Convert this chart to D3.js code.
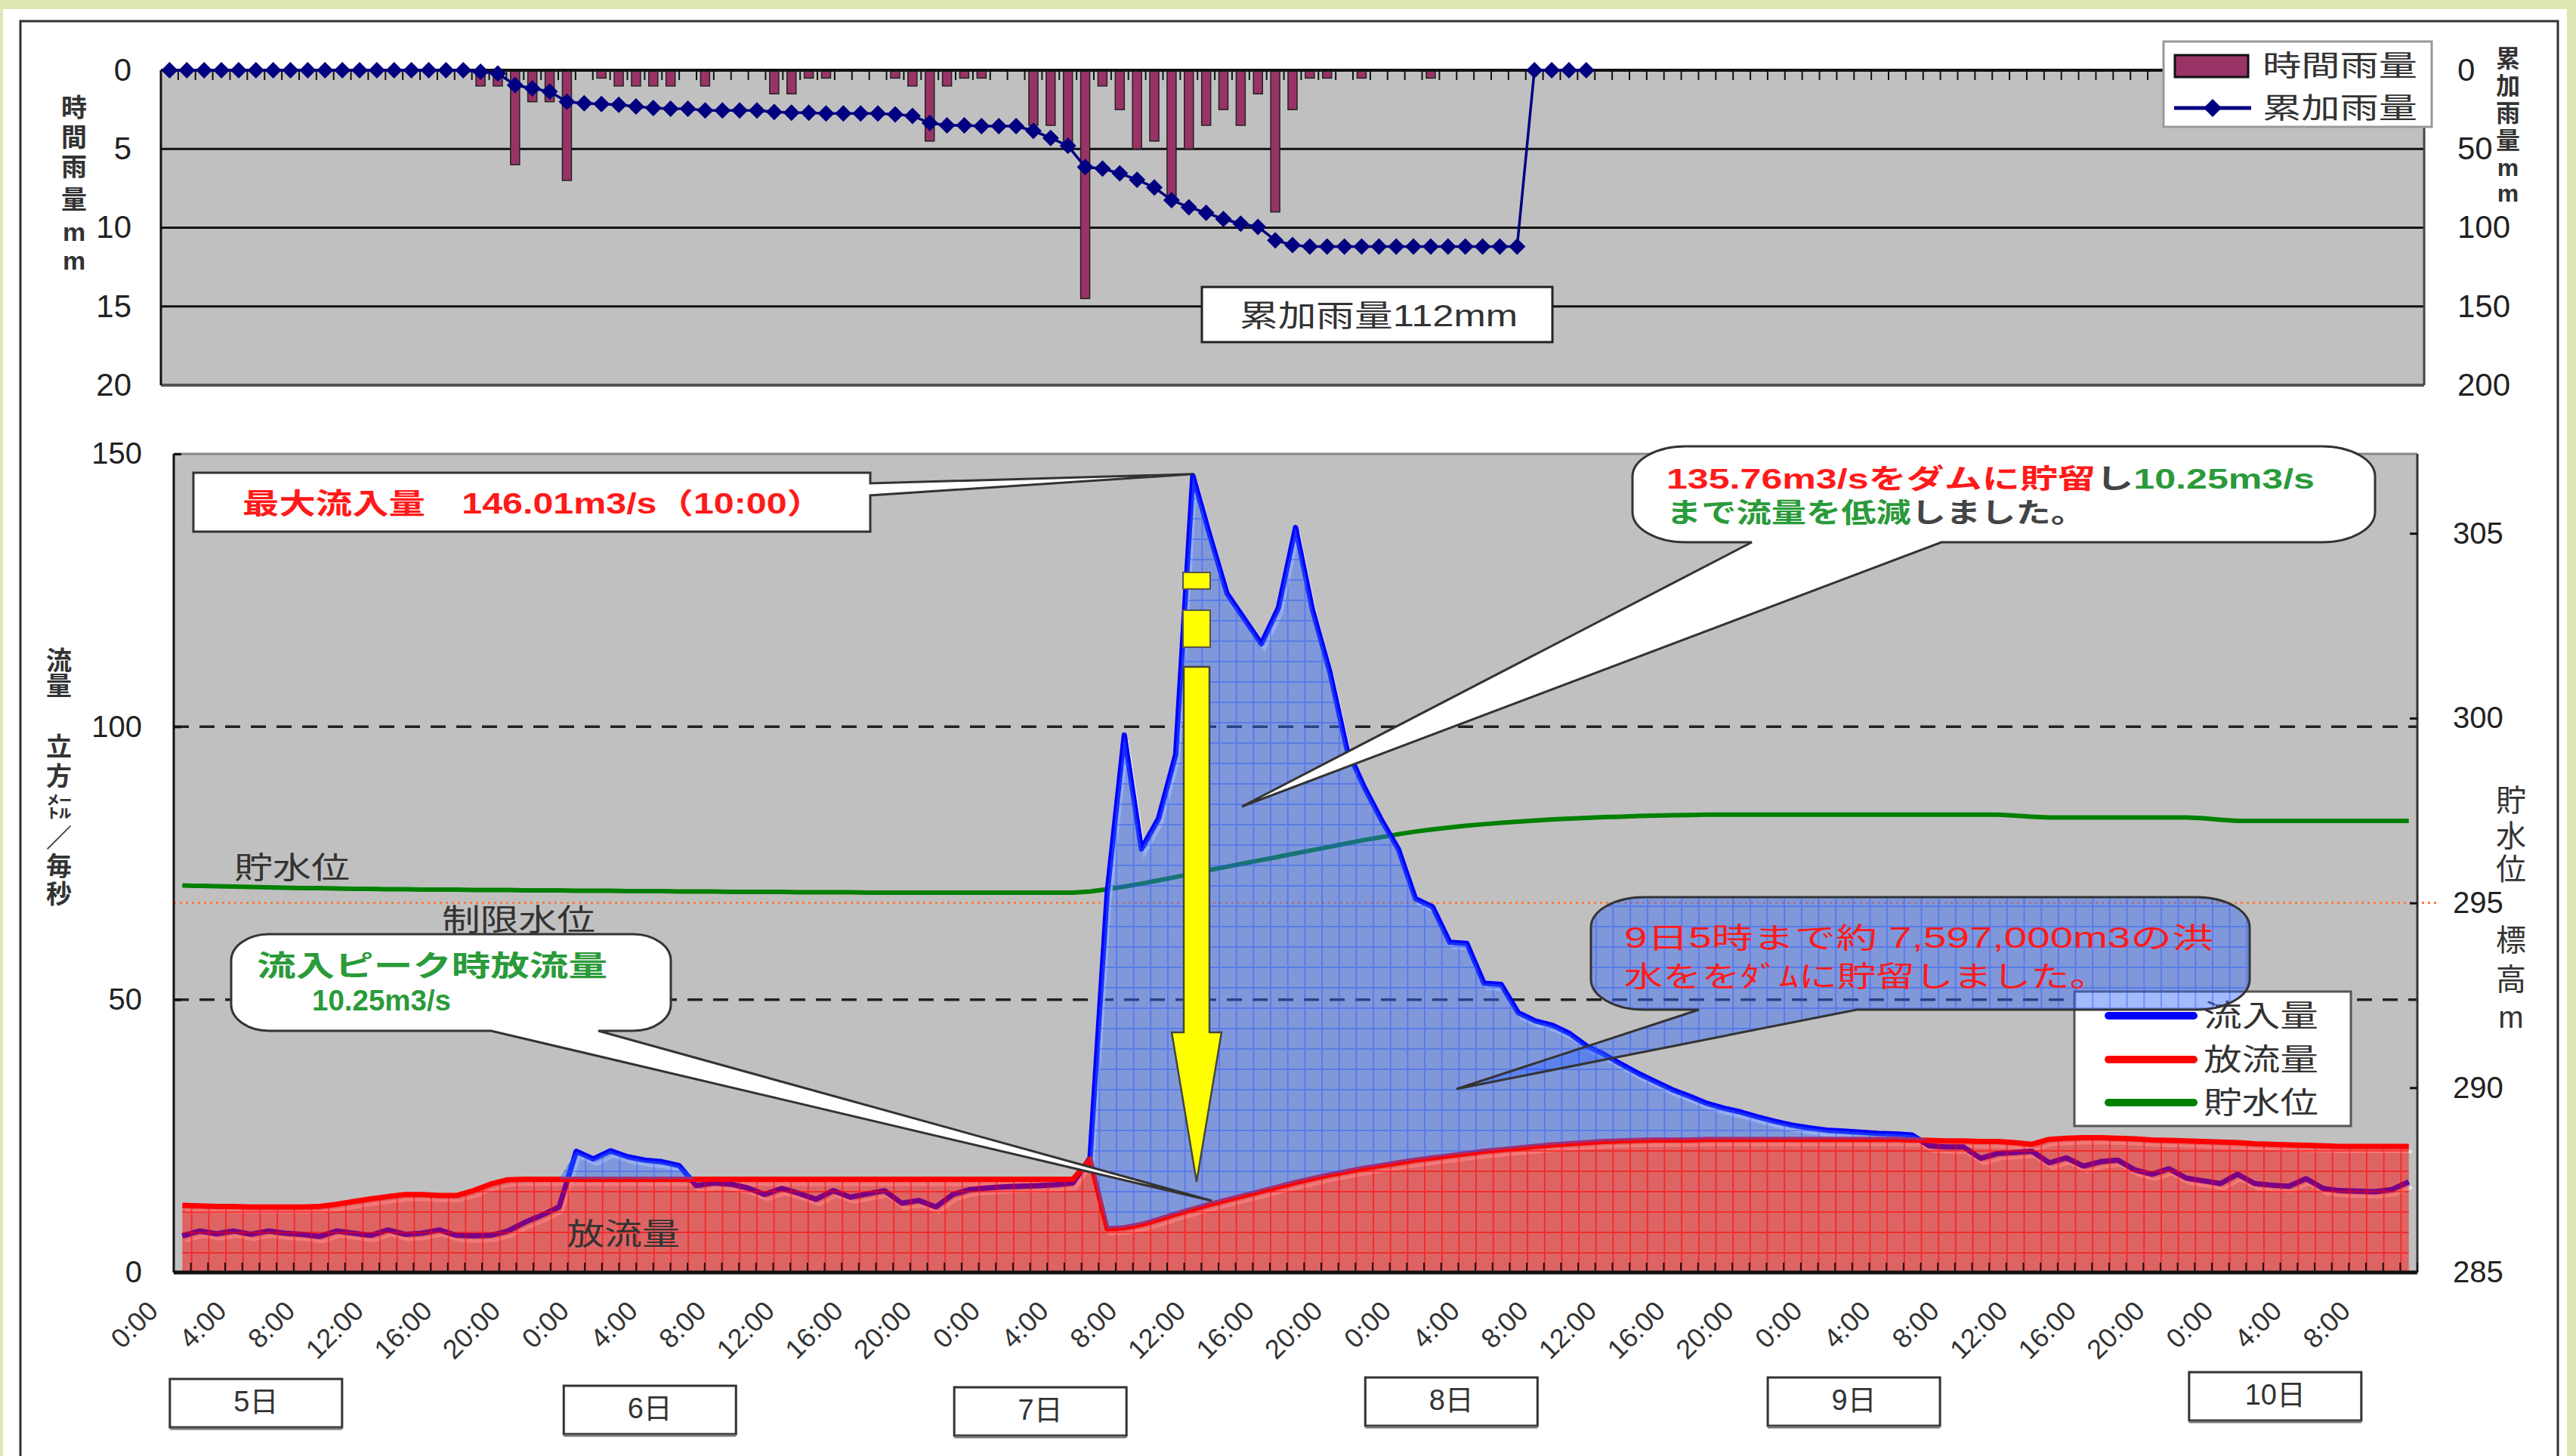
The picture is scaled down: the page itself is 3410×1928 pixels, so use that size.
<!DOCTYPE html>
<meta charset="utf-8">
<title>ダム流量 5日〜10日</title>
<body>
<script src="https://cdn.jsdelivr.net/npm/d3@7"></script>
<style>
html, body { margin: 0; background: #dfe6b3; }
svg { display: block; }
text { font-family: "Liberation Sans", "Noto Sans CJK JP", sans-serif; }
</style>
<script>
// hourly rain (mm), one value per hour from 5th 0:00
var rainHourly = [0,0,0,0,0,0,0,0,0,0,
  0,0,0,0,0,0,0,0,1,1,
  6,2,2,7,0,0.5,1,1,1,1,
  0,1,0,0,0,1.5,1.5,0.5,0.5,0,
  0,0,0.5,1,4.5,1,0.5,0.5,0,0,
  3.5,3.5,5,14.5,1,2.5,5,4.5,8,5,
  3.5,2.5,3.5,1.5,9,2.5,0.5,0.5,0,0.5,
  0,0,0,0.5,0,0,0,0,0,0,
  0,0,0];
// accumulated rain (mm)
var rainTotal = [0,0,0,0,0,0,0,0,0,0,
  0,0,0,0,0,0,0,0,1,2,
  9.5,11.5,13.5,20,21,21.5,22,23,24,24.5,
  24.5,25.5,25.5,25.5,25.5,26.5,27,27,27.5,27.5,
  27.5,27.5,28,29,33.5,35,35,35.5,35.5,35.5,
  38.5,43,48,61.5,62.5,65.5,69.5,74.5,82.5,87,
  90.5,94.5,97.5,99.5,108,111,112,112,112,112,
  112,112,112,112,112,112,112,112,112,0,
  0,0,0];
// inflow m3/s
var inflow = [6.7,7.6,7.1,7.6,7.0,7.6,7.2,7.0,6.6,7.6,
  7.2,6.8,7.8,7.0,7.2,7.8,6.8,6.7,6.8,7.6,
  9.2,10.5,12.0,22.2,20.8,22.3,21.2,20.6,20.3,19.6,
  15.9,16.4,16.2,15.5,14.3,15.4,14.5,13.4,15.0,13.8,
  14.4,15.0,12.7,13.2,12.0,14.3,15.2,15.5,15.7,15.8,
  15.9,16.1,16.4,21.0,69.5,98.5,77.6,83.2,94.9,146.01,
  135.0,124.4,119.8,115.2,121.8,136.5,121.3,110.1,95.9,89.0,
  83.0,77.6,68.5,67.0,60.5,60.3,53.0,52.8,47.6,46.1,
  45.3,43.8,41.5,40.0,38.2,36.5,35.0,33.5,32.3,31.0,
  30.1,29.4,28.5,27.7,27.0,26.5,26.1,25.9,25.7,25.5,
  25.4,25.2,23.2,23.0,23.0,20.9,21.8,22.0,22.2,20.1,
  21.0,19.5,20.3,20.6,18.8,18.0,19.0,17.3,16.8,16.3,
  18.0,16.3,16.0,15.8,17.2,15.4,15.0,14.9,14.8,15.2,
  16.6];
// outflow m3/s
var outflow = [12.3,12.2,12.1,12.1,12.0,12.0,12.0,12.0,12.1,12.5,
  13.0,13.5,13.9,14.3,14.3,14.1,14.1,15.0,16.2,17.0,
  17.1,17.1,17.1,17.1,17.1,17.1,17.1,17.1,17.1,17.1,
  17.1,17.1,17.1,17.1,17.1,17.1,17.1,17.1,17.1,17.1,
  17.1,17.1,17.1,17.1,17.1,17.1,17.1,17.1,17.1,17.1,
  17.1,17.1,17.1,20.8,8.0,8.2,8.8,9.7,10.7,11.6,
  12.5,13.3,14.1,14.9,15.7,16.5,17.2,17.9,18.5,19.1,
  19.6,20.1,20.6,21.0,21.4,21.8,22.2,22.5,22.8,23.1,
  23.4,23.6,23.8,24.0,24.1,24.2,24.3,24.3,24.3,24.4,
  24.4,24.4,24.4,24.4,24.4,24.4,24.4,24.4,24.4,24.4,
  24.4,24.3,24.2,24.1,24.1,24.0,24.0,23.8,23.5,24.4,
  24.6,24.7,24.7,24.6,24.5,24.3,24.2,24.1,24.0,23.9,
  23.8,23.6,23.5,23.4,23.3,23.2,23.1,23.1,23.1,23.1,
  23.1];
// reservoir level (m)
var level = [295.47,295.46,295.45,295.44,295.43,295.42,295.41,295.40,295.40,295.39,
  295.38,295.38,295.37,295.37,295.36,295.36,295.36,295.35,295.35,295.35,
  295.34,295.34,295.34,295.33,295.33,295.33,295.32,295.32,295.32,295.31,
  295.31,295.31,295.30,295.30,295.30,295.30,295.29,295.29,295.29,295.29,
  295.28,295.28,295.28,295.28,295.28,295.28,295.28,295.28,295.28,295.28,
  295.28,295.28,295.28,295.31,295.37,295.44,295.52,295.61,295.70,295.80,
  295.89,295.98,296.07,296.16,296.25,296.34,296.43,296.52,296.61,296.70,
  296.78,296.86,296.93,296.99,297.04,297.09,297.13,297.17,297.20,297.23,
  297.26,297.28,297.30,297.32,297.33,297.35,297.36,297.37,297.38,297.39,
  297.39,297.39,297.39,297.39,297.39,297.39,297.39,297.39,297.39,297.39,
  297.39,297.39,297.39,297.39,297.39,297.39,297.39,297.36,297.33,297.31,
  297.31,297.31,297.31,297.31,297.31,297.31,297.31,297.31,297.29,297.25,
  297.22,297.22,297.22,297.22,297.22,297.22,297.22,297.22,297.22,297.22,
  297.22];
var limitLevel = 295;

var timeLabels = ["0:00","4:00","8:00","12:00","16:00","20:00",
  "0:00","4:00","8:00","12:00","16:00","20:00",
  "0:00","4:00","8:00","12:00","16:00","20:00",
  "0:00","4:00","8:00","12:00","16:00","20:00",
  "0:00","4:00","8:00","12:00","16:00","20:00",
  "0:00","4:00","8:00"];
var dayLabels = ["5日","6日","7日","8日","9日","10日"];
var rainTicks = [0,5,10,15,20],
    totalTicks = [0,50,100,150,200],
    flowTicks = [0,50,100,150],
    levelTicks = [285,290,295,300,305];

// layout
var W = 3410, H = 1928;
var hours = d3.range(inflow.length);
var dayBoxHour = [4.3, 27.3, 50.1, 74.1, 97.6, 122.2],
    dayBoxTop = [1826, 1835, 1837, 1824, 1824, 1817];

var svg = d3.select("body").append("svg").attr("width", W).attr("height", H);
var defs = svg.append("defs");

function txt(g, x, y, s, o) {
  o = o || {};
  var t = g.append("text").attr("x", x).attr("y", y).attr("dy", "0.35em")
    .attr("font-size", o.size || 40).attr("fill", o.fill || "#222")
    .attr("text-anchor", o.anchor || "start")
    .attr("font-weight", o.weight || "normal");
  if (o.len) t.attr("textLength", o.len).attr("lengthAdjust", "spacingAndGlyphs");
  if (typeof s === "string") t.text(s);
  else s.forEach(function(p) { t.append("tspan").attr("fill", p[1]).text(p[0]); });
  return t;
}
function vtext(g, x, ys, chars, o) {
  chars.forEach(function(c, k) { txt(g, x, ys[k], c, Object.assign({anchor: "middle"}, o)); });
}
function bubble(x0, y0, x1, y1, rx, ry, wx0, wx1, tx, ty) {
  return "M" + (x0 + rx) + "," + y0 + "H" + (x1 - rx) +
    "A" + rx + "," + ry + " 0 0 1 " + x1 + "," + (y0 + ry) + "V" + (y1 - ry) +
    "A" + rx + "," + ry + " 0 0 1 " + (x1 - rx) + "," + y1 + "H" + wx1 +
    "L" + tx + "," + ty + "L" + wx0 + "," + y1 + "H" + (x0 + rx) +
    "A" + rx + "," + ry + " 0 0 1 " + x0 + "," + (y1 - ry) + "V" + (y0 + ry) +
    "A" + rx + "," + ry + " 0 0 1 " + (x0 + rx) + "," + y0 + "Z";
}

// page panel + frame
svg.append("rect").attr("x", 4).attr("y", 12).attr("width", 3394).attr("height", H).attr("fill", "#fff");
svg.append("rect").attr("x", 27).attr("y", 28).attr("width", 3359).attr("height", 1940)
  .attr("fill", "none").attr("stroke", "#333").attr("stroke-width", 3);

// ===== top chart: rain =====
var T = {l: 213, r: 3209, t: 93, b: 510};
var xT = d3.scaleBand().domain(hours).range([T.l, T.r]);
var cT = function(i) { return xT(i) + xT.bandwidth() / 2; };
var yR = d3.scaleLinear().domain([0, 20]).range([T.t, T.b]);
var yC = d3.scaleLinear().domain([0, 200]).range([T.t, T.b]);

var gt = svg.append("g");
gt.append("rect").attr("x", T.l).attr("y", T.t).attr("width", T.r - T.l).attr("height", T.b - T.t).attr("fill", "#c0c0c0");
gt.selectAll(".grid").data([5, 10, 15]).enter().append("line")
  .attr("x1", T.l).attr("x2", T.r).attr("y1", yR).attr("y2", yR)
  .attr("stroke", "#111").attr("stroke-width", 3);
gt.append("line").attr("x1", T.l).attr("x2", T.r).attr("y1", T.b).attr("y2", T.b).attr("stroke", "#555").attr("stroke-width", 4);
gt.append("line").attr("x1", T.r).attr("x2", T.r).attr("y1", T.t).attr("y2", T.b).attr("stroke", "#444").attr("stroke-width", 3);

gt.selectAll(".bar").data(rainHourly.map(function(v, i) { return {i: i, v: v}; }).filter(function(d) { return d.v > 0; }))
  .enter().append("rect")
  .attr("x", function(d) { return cT(d.i) - 6; }).attr("y", T.t)
  .attr("width", 12).attr("height", function(d) { return yR(d.v) - T.t; })
  .attr("fill", "#993366").attr("stroke", "#222").attr("stroke-width", 1.5);

gt.append("line").attr("x1", T.l).attr("x2", T.r).attr("y1", T.t).attr("y2", T.t).attr("stroke", "#111").attr("stroke-width", 4);
gt.selectAll(".tk").data(d3.range(hours.length + 1)).enter().append("line")
  .attr("x1", function(i) { return T.l + i * xT.bandwidth(); }).attr("x2", function(i) { return T.l + i * xT.bandwidth(); })
  .attr("y1", T.t).attr("y2", T.t + 13).attr("stroke", "#111").attr("stroke-width", 2);
gt.append("line").attr("x1", T.l).attr("x2", T.l).attr("y1", T.t).attr("y2", T.b).attr("stroke", "#111").attr("stroke-width", 3);

gt.append("path").datum(rainTotal)
  .attr("d", d3.line().x(function(d, i) { return cT(i); }).y(function(d) { return yC(d); }))
  .attr("fill", "none").attr("stroke", "#000080").attr("stroke-width", 3.5);
gt.selectAll(".dm").data(rainTotal).enter().append("path")
  .attr("d", "M0,-11L11,0L0,11L-11,0Z")
  .attr("transform", function(d, i) { return "translate(" + cT(i) + "," + yC(d) + ")"; })
  .attr("fill", "#000080");

function styleAxis(g) {
  g.attr("font-family", null).attr("font-size", 40);
  g.select(".domain").remove();
  g.selectAll("text").attr("fill", "#222");
}
gt.append("g").attr("transform", "translate(" + T.l + ",0)")
  .call(d3.axisLeft(yR).tickValues(rainTicks).tickSize(0).tickPadding(39)).call(styleAxis)
  .selectAll("text").attr("font-size", 42);
gt.append("g").attr("transform", "translate(" + T.r + ",0)")
  .call(d3.axisRight(yC).tickValues(totalTicks).tickSize(0).tickPadding(44)).call(styleAxis)
  .selectAll("text").attr("font-size", 42);

vtext(gt, 98, [143, 182, 221, 264, 307, 345], ["時","間","雨","量","m","m"], {size: 34, weight: "bold", fill: "#333"});
vtext(gt, 3320, [78, 114, 150, 186, 222, 256], ["累","加","雨","量","m","m"], {size: 32, weight: "bold", fill: "#333"});

// top legend
gt.append("rect").attr("x", 2864).attr("y", 55).attr("width", 355).attr("height", 113)
  .attr("fill", "#fff").attr("stroke", "#999").attr("stroke-width", 3);
gt.append("rect").attr("x", 2879).attr("y", 73).attr("width", 97).attr("height", 29)
  .attr("fill", "#993366").attr("stroke", "#111").attr("stroke-width", 3);
txt(gt, 2995, 87, "時間雨量", {size: 38, len: 205, fill: "#333"});
gt.append("line").attr("x1", 2878).attr("x2", 2980).attr("y1", 143).attr("y2", 143).attr("stroke", "#000080").attr("stroke-width", 5);
gt.append("path").attr("d", "M0,-12L12,0L0,12L-12,0Z").attr("transform", "translate(2929,143)").attr("fill", "#000080");
txt(gt, 2995, 143, "累加雨量", {size: 38, len: 205, fill: "#333"});

gt.append("rect").attr("x", 1591).attr("y", 380).attr("width", 464).attr("height", 73)
  .attr("fill", "#fff").attr("stroke", "#222").attr("stroke-width", 3);
txt(gt, 1641, 418, "累加雨量112mm", {size: 40, len: 368, fill: "#333"});

// ===== bottom chart: flow =====
var B = {l: 230, r: 3200, t: 601, b: 1685};
var xB = d3.scaleBand().domain(hours).range([B.l, B.r]);
var bw = xB.bandwidth();
var cB = function(i) { return xB(i) + bw / 2; };
var yQ = d3.scaleLinear().domain([0, 150]).range([B.b, B.t]);
var yL = d3.scaleLinear().domain([285, 307.15]).range([B.b, B.t]);

function pattern(id, fill, line) {
  var p = defs.append("pattern").attr("id", id).attr("patternUnits", "userSpaceOnUse")
    .attr("x", B.l).attr("y", B.b).attr("width", bw).attr("height", 27);
  p.append("rect").attr("width", bw).attr("height", 27).attr("fill", fill);
  p.append("path").attr("d", "M1,0V27M0,1H" + bw).attr("stroke", line).attr("stroke-width", 2);
}
pattern("pBlue", "rgba(50,105,250,0.45)", "rgba(30,80,255,0.4)");
pattern("pRed", "rgba(255,0,0,0.48)", "rgba(255,0,0,0.55)");

var gb = svg.append("g");
gb.append("rect").attr("x", B.l).attr("y", B.t).attr("width", B.r - B.l).attr("height", B.b - B.t).attr("fill", "#c0c0c0");
gb.selectAll(".dash").data([50, 100]).enter().append("line")
  .attr("x1", B.l).attr("x2", B.r).attr("y1", yQ).attr("y2", yQ)
  .attr("stroke", "#222").attr("stroke-width", 3.5).attr("stroke-dasharray", "20,14");
gb.append("line").attr("x1", B.l).attr("x2", 3230).attr("y1", yL(limitLevel)).attr("y2", yL(limitLevel))
  .attr("stroke", "#ff7a3a").attr("stroke-width", 3).attr("stroke-dasharray", "3,5");

gb.append("path").datum(level)
  .attr("d", d3.line().x(function(d, i) { return cB(i); }).y(function(d) { return yL(d); }))
  .attr("fill", "none").attr("stroke", "#008000").attr("stroke-width", 6);

var lineQ = d3.line().x(function(d, i) { return cB(i); }).y(function(d) { return yQ(d); });
[inflow, outflow].forEach(function(s) {
  gb.append("path").datum(s).attr("d", lineQ).attr("transform", "translate(4,7)")
    .attr("fill", "none").attr("stroke", "#eeeeee").attr("stroke-width", 4).attr("opacity", 0.85);
});
gb.append("path").datum(inflow).attr("d", lineQ).attr("fill", "none").attr("stroke", "#0000ff").attr("stroke-width", 7).attr("stroke-linejoin", "round");
gb.append("path").datum(outflow).attr("d", lineQ).attr("fill", "none").attr("stroke", "#ff0000").attr("stroke-width", 7).attr("stroke-linejoin", "round");

gb.append("path").datum(hours)
  .attr("d", d3.area().x(cB)
    .y0(function(i) { return yQ(outflow[i]); })
    .y1(function(i) { return yQ(Math.max(inflow[i], outflow[i])); }))
  .attr("fill", "url(#pBlue)");
gb.append("path").datum(hours)
  .attr("d", d3.area().x(cB).y0(B.b).y1(function(i) { return yQ(outflow[i]); }))
  .attr("fill", "url(#pRed)");

// axes frame
gb.append("line").attr("x1", B.l).attr("x2", B.r).attr("y1", B.t).attr("y2", B.t).attr("stroke", "#888").attr("stroke-width", 3);
gb.append("line").attr("x1", B.r).attr("x2", B.r).attr("y1", B.t).attr("y2", B.b).attr("stroke", "#333").attr("stroke-width", 3);
gb.selectAll(".tk").data(d3.range(hours.length + 1)).enter().append("line")
  .attr("x1", function(i) { return B.l + i * bw; }).attr("x2", function(i) { return B.l + i * bw; })
  .attr("y1", B.b - 13).attr("y2", B.b).attr("stroke", "#111").attr("stroke-width", 2);
gb.append("line").attr("x1", B.l).attr("x2", B.r).attr("y1", B.b).attr("y2", B.b).attr("stroke", "#111").attr("stroke-width", 5);
gb.append("line").attr("x1", B.l).attr("x2", B.l).attr("y1", B.t).attr("y2", B.b).attr("stroke", "#111").attr("stroke-width", 3);

gb.append("g").attr("transform", "translate(" + B.l + ",0)")
  .call(d3.axisLeft(yQ).tickValues(flowTicks).tickSize(-10).tickPadding(42)).call(styleAxis)
  .selectAll("line").attr("stroke", "#111").attr("stroke-width", 3);
gb.append("g").attr("transform", "translate(" + B.r + ",0)")
  .call(d3.axisRight(yL).tickValues(levelTicks).tickSize(-10).tickPadding(47)).call(styleAxis)
  .selectAll("line").attr("stroke", "#111").attr("stroke-width", 3);

var xa = gb.append("g").attr("transform", "translate(0," + B.b + ")")
  .call(d3.axisBottom(xB).tickValues(hours.filter(function(i) { return i % 4 === 0; }))
    .tickFormat(function(i) { return timeLabels[i / 4]; }).tickSize(0))
  .call(styleAxis);
xa.selectAll("text").attr("font-size", 36).attr("fill", "#333")
  .attr("x", 0).attr("y", 0).attr("dy", 0).attr("text-anchor", "end")
  .attr("transform", "translate(-30,53) rotate(-45)");

vtext(gb, 78, [875, 908, 989, 1028, 1069, 1110, 1147, 1184], ["流","量","立","方","㍍","／","毎","秒"], {size: 34, weight: "bold", fill: "#333"});
vtext(gb, 3324, [1060, 1107, 1151, 1245, 1297, 1347], ["貯","水","位","標","高","m"], {size: 40, fill: "#333"});

txt(gb, 310, 1149, "貯水位", {size: 40, len: 153, fill: "#333"});
txt(gb, 585, 1218, "制限水位", {size: 40, len: 203, fill: "#333"});
txt(gb, 750, 1634, "放流量", {size: 40, len: 150, fill: "#333"});

// bottom legend
gb.append("rect").attr("x", 2746).attr("y", 1313).attr("width", 366).attr("height", 178)
  .attr("fill", "#fff").attr("stroke", "#555").attr("stroke-width", 3);
[["流入量", "#0000ff", 1345], ["放流量", "#ff0000", 1403], ["貯水位", "#008000", 1460]].forEach(function(d) {
  gb.append("line").attr("x1", 2791).attr("x2", 2904).attr("y1", d[2]).attr("y2", d[2])
    .attr("stroke", d[1]).attr("stroke-width", 10).attr("stroke-linecap", "round");
  txt(gb, 2917, d[2], d[0], {size: 40, len: 152, fill: "#333"});
});

// yellow arrow
gb.append("rect").attr("x", 1566).attr("y", 758).attr("width", 36).attr("height", 22).attr("fill", "#ffff00").attr("stroke", "#555").attr("stroke-width", 2);
gb.append("rect").attr("x", 1566).attr("y", 808).attr("width", 36).attr("height", 49).attr("fill", "#ffff00").attr("stroke", "#555").attr("stroke-width", 2);
gb.append("path").attr("d", "M1567,883H1601V1367H1617L1584,1565L1551,1367H1567Z")
  .attr("fill", "#ffff00").attr("stroke", "#444").attr("stroke-width", 2.5);

// callouts
var red = "#ff1a1a", green = "#2a9a3a", grey = "#444";
gb.append("path").attr("d", "M256,626H1152V640L" + cB(59) + "," + (yQ(inflow[59]) - 2) + "L1152,656V704H256Z")
  .attr("fill", "#fff").attr("stroke", "#333").attr("stroke-width", 3);
txt(gb, 321, 667, "最大流入量　146.01m3/s（10:00）", {size: 38, weight: "bold", fill: red, len: 769});

gb.append("path").attr("d", bubble(2161, 591, 3144, 718, 70, 40, 2319, 2570, 1644, 1068))
  .attr("fill", "#fff").attr("stroke", "#333").attr("stroke-width", 3);
txt(gb, 2206, 634, [["135.76m3/sをダムに貯留", red], ["し", grey], ["10.25m3/s", green]], {size: 36, weight: "bold", len: 858});
txt(gb, 2206, 679, [["まで流量を低減", green], ["しました。", grey]], {size: 36, weight: "bold", len: 555});

gb.append("path").attr("d", bubble(306, 1237, 888, 1365, 50, 35, 650, 792, 1604, 1590))
  .attr("fill", "#fff").attr("stroke", "#333").attr("stroke-width", 3);
txt(gb, 340, 1279, "流入ピーク時放流量", {size: 38, weight: "bold", fill: green, len: 464});
txt(gb, 413, 1325, "10.25m3/s", {size: 38, weight: "bold", fill: green, len: 184});

gb.append("path").attr("d", bubble(2106, 1188, 2978, 1337, 70, 40, 2249, 2458, 1928, 1442))
  .attr("fill", "url(#pBlue)").attr("stroke", "#333").attr("stroke-width", 3);
txt(gb, 2150, 1242, "9日5時まで約 7,597,000m3の洪", {size: 38, fill: red, len: 780});
txt(gb, 2150, 1293, "水ををﾀﾞﾑに貯留しました。", {size: 38, fill: red, len: 641});

// day boxes
dayLabels.forEach(function(s, k) {
  var cx = B.l + (dayBoxHour[k] + 0.5) * bw, y0 = dayBoxTop[k];
  gb.append("rect").attr("x", cx - 114).attr("y", y0).attr("width", 228).attr("height", 64)
    .attr("fill", "#fff").attr("stroke", "#333").attr("stroke-width", 3);
  gb.append("line").attr("x1", cx - 114).attr("x2", cx + 114).attr("y1", y0 + 66).attr("y2", y0 + 66)
    .attr("stroke", "#777").attr("stroke-width", 3);
  txt(gb, cx, y0 + 30, s, {size: 38, anchor: "middle", fill: "#333"});
});
</script>
